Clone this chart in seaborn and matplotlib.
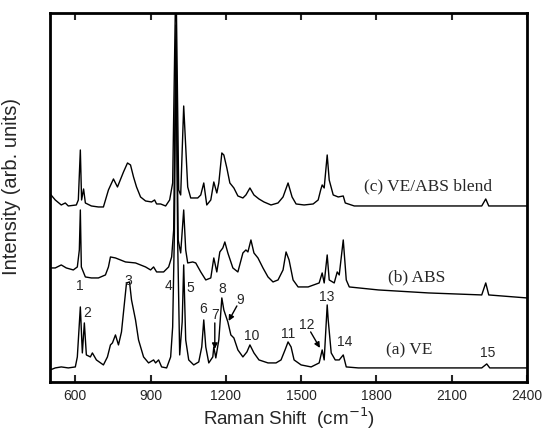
import matplotlib
matplotlib.use("Agg")
import matplotlib.pyplot as plt
import seaborn as sns
import pandas as pd

# spectra (Raman shift in cm-1, intensity in arb. units, offsets included)
ve_x = [500, 520, 544, 572, 600, 608, 620, 628, 636, 644, 660, 668, 684, 712, 728, 740, 748,
        760, 772, 784, 804, 816, 824, 840, 852, 872, 892, 912, 920, 932, 944, 964, 980, 988,
        995, 1001, 1008, 1016, 1026, 1032, 1040, 1052, 1072, 1092, 1104, 1112, 1120, 1132, 1148,
        1152, 1160, 1172, 1184, 1192, 1208, 1220, 1232, 1248, 1268, 1284, 1296, 1312, 1332,
        1368, 1400, 1420, 1436, 1448, 1460, 1472, 1500, 1540, 1572, 1584, 1592, 1604, 1608,
        1620, 1636, 1652, 1668, 1680, 1728, 1940, 2220, 2240, 2252, 2400]
ve_y = [12, 14, 15, 14, 15, 25, 75, 29, 59, 27, 25, 29, 22, 17, 25, 37, 39,
        47, 37, 50, 99, 100, 82, 62, 42, 25, 19, 22, 19, 22, 15, 14, 25, 55,
        150, 342, 140, 27, 60, 117, 42, 22, 17, 20, 35, 62, 35, 19, 25,
        35, 24, 42, 84, 72, 60, 47, 44, 32, 25, 30, 37, 29, 22,
        19, 19, 22, 32, 40, 35, 22, 17, 15, 19, 32, 22, 77, 62,
        29, 22, 22, 27, 15, 14, 14, 14, 18, 14, 14]

abs_x = [500, 520, 544, 564, 592, 608, 616, 620, 624, 640, 664, 692, 720, 732, 740, 760, 800,
         840, 880, 900, 912, 924, 952, 972, 984, 992, 1001, 1010, 1020, 1032, 1040, 1048, 1068,
         1080, 1100, 1120, 1140, 1152, 1164, 1176, 1188, 1196, 1208, 1228, 1248, 1268, 1280,
         1288, 1300, 1312, 1328, 1348, 1368, 1388, 1408, 1428, 1440, 1452, 1468, 1488, 1528,
         1572, 1584, 1592, 1604, 1612, 1632, 1644, 1652, 1668, 1680, 1692, 1808, 2008, 2220,
         2236, 2248, 2400]
abs_y = [114, 114, 117, 114, 112, 115, 132, 172, 115, 105, 104, 104, 107, 115, 125, 124, 120,
         119, 115, 112, 115, 110, 110, 115, 125, 152, 357, 142, 129, 172, 132, 119, 120,
         119, 110, 102, 104, 124, 110, 130, 134, 140, 129, 114, 110, 129, 132,
         130, 142, 129, 124, 114, 105, 100, 102, 112, 130, 122, 102, 95, 95,
         99, 109, 99, 127, 102, 99, 110, 107, 142, 102, 95, 92, 89, 87,
         99, 87, 84]

blend_x = [500, 520, 544, 560, 572, 604, 612, 620, 625, 633, 640, 664, 692, 712, 732, 752, 768,
           792, 808, 820, 832, 844, 860, 880, 904, 916, 924, 940, 960, 976, 988, 1001, 1012,
           1020, 1032, 1048, 1060, 1088, 1100, 1112, 1124, 1140, 1152, 1164, 1172, 1184, 1192,
           1204, 1216, 1232, 1248, 1268, 1280, 1296, 1312, 1332, 1352, 1380, 1408, 1428, 1448,
           1464, 1480, 1512, 1548, 1568, 1578, 1584, 1592, 1604, 1612, 1628, 1648, 1668, 1676,
           1712, 1900, 2100, 2220, 2236, 2248, 2400]
blend_y = [188, 182, 177, 179, 176, 177, 182, 232, 182, 193, 179, 176, 175, 175, 192, 203, 195,
           210, 219, 217, 205, 195, 185, 181, 180, 182, 178, 178, 176, 182, 199, 412, 192,
           187, 276, 195, 184, 184, 187, 199, 177, 182, 200, 189, 199, 229, 227,
           214, 199, 194, 186, 184, 187, 194, 187, 183, 180, 177, 179, 185, 199,
           185, 178, 177, 178, 182, 192, 197, 194, 227, 202, 187, 185, 186, 179,
           176, 176, 176, 176, 183, 176, 176]

spectra = {"(a) VE": (ve_x, ve_y), "(b) ABS": (abs_x, abs_y), "(c) VE/ABS blend": (blend_x, blend_y)}
trace_labels = ["(a) VE", "(b) ABS", "(c) VE/ABS blend"]
trace_label_pos = [(1932, 32), (1960, 105), (2008, 196)]

peak_labels = ["1", "2", "3", "4", "5", "6", "7", "8", "9", "10", "11", "12", "13", "14", "15"]
peak_label_pos = [(616, 96), (646, 69), (812, 101), (972, 96), (1058, 94), (1108, 73),
                  (1156, 67), (1184, 93), (1256, 82), (1304, 46), (1448, 48), (1524, 57),
                  (1600, 85), (1674, 40), (2244, 29)]
# arrows for peaks 7, 9 and 12: start and tip
arrow_starts = [(1156, 59), (1244, 76), (1538, 50)]
arrow_tips = [(1156, 33), (1211, 61), (1575, 34)]

sns.set_style("ticks")
plt.rcParams["font.family"] = ["Liberation Sans", "DejaVu Sans"]

fig = plt.figure(figsize=(5.46, 4.34), dpi=100)
ax = fig.add_axes([0.092, 0.12, 0.873, 0.85])

for name in trace_labels:
    xs, ys = spectra[name]
    df = pd.DataFrame({"shift": xs, "intensity": ys})
    sns.lineplot(data=df, x="shift", y="intensity", color="black", lw=1.0,
                 sort=False, estimator=None, ax=ax)

for txt, (x, y) in zip(trace_labels, trace_label_pos):
    ax.text(x, y, txt, family=["Liberation Serif", "DejaVu Serif"], fontsize=12.5,
            ha="center", va="center")

for txt, (x, y) in zip(peak_labels, peak_label_pos):
    ax.text(x, y, txt, fontsize=10, ha="center", va="center")

for start, tip in zip(arrow_starts, arrow_tips):
    ax.annotate("", xy=tip, xytext=start,
                arrowprops=dict(arrowstyle="-|>", color="black", lw=1.0,
                                mutation_scale=8, shrinkA=0, shrinkB=0))

ax.set_xlim(500, 2400)
ax.set_ylim(0, 369)
ax.set_xticks([600, 900, 1200, 1500, 1800, 2100, 2400])
ax.set_yticks([])
ax.tick_params(axis="x", direction="in", top=True, length=5, width=1.5, labelsize=10, pad=5)
for s in ax.spines.values():
    s.set_visible(True)
    s.set_linewidth(2)
    s.set_color("black")

ax.set_xlabel("Raman Shift  (cm$^{-1}$)", fontsize=13.5, labelpad=2)
ax.set_ylabel("Intensity (arb. units)", fontsize=14.5, labelpad=8)
ax.yaxis.set_label_coords(-0.062, 0.53)

fig.savefig("out.png", dpi=100)
